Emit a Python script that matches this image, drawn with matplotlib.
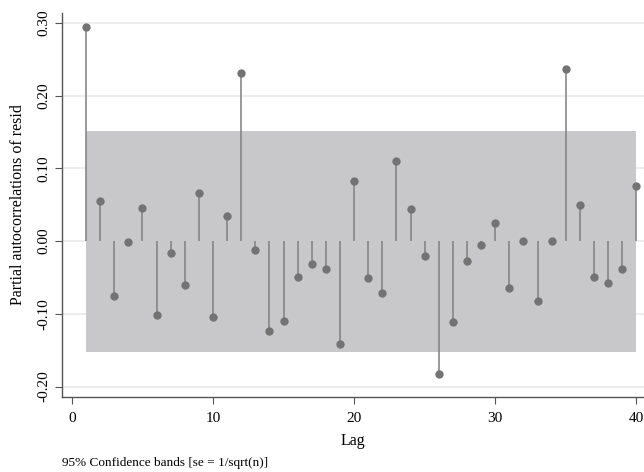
import matplotlib
matplotlib.use("Agg")
import matplotlib.pyplot as plt
import numpy as np

lags = list(range(1, 41))
pacf = [0.294, 0.055, -0.076, -0.001, 0.046, -0.101, -0.016, -0.061, 0.066, -0.104,
        0.035, 0.231, -0.012, -0.123, -0.110, -0.050, -0.032, -0.039, -0.142, 0.083,
        -0.051, -0.072, 0.110, 0.044, -0.020, -0.183, -0.111, -0.028, -0.006, 0.025,
        -0.065, 0.000, -0.083, 0.000, 0.237, 0.049, -0.050, -0.058, -0.038, 0.076]
band = 0.152
xticks = [0, 10, 20, 30, 40]
yticks = [-0.20, -0.10, 0.00, 0.10, 0.20, 0.30]

plt.rcParams['font.family'] = ['Liberation Serif', 'DejaVu Serif']

fig = plt.figure(figsize=(6.44, 4.72), dpi=100)
ax = fig.add_axes([0.0958, 0.1595, 0.904, 0.8135])

ax.set_xlim(-0.72, 40.53)
ax.set_ylim(-0.214, 0.314)

for yv in yticks:
    ax.axhline(yv, color='#eaeaea', lw=1.2, zorder=0)

ax.fill_between([lags[0], lags[-1]], -band, band, color='#c8c8ca', lw=0, zorder=1)

ax.vlines(lags, 0, pacf, color='#7f7f7f', lw=1.1, zorder=2)
ax.plot(lags, pacf, 'o', color='#737373', ms=6, mec='none', zorder=3)

for s in ['top', 'right']:
    ax.spines[s].set_visible(False)
for s in ['left', 'bottom']:
    ax.spines[s].set_color('#555555')
    ax.spines[s].set_linewidth(1.0)

ax.set_xticks(xticks)
ax.set_yticks(yticks)
ax.set_yticklabels([f"{v:.2f}" for v in yticks], rotation=90, va='center')
ax.tick_params(axis='both', labelsize=11, color='#555555', length=5, direction='out')
ax.tick_params(axis='x', pad=6)
ax.tick_params(axis='y', pad=3)

ax.set_xlabel('Lag', fontsize=11.5, labelpad=6)
ax.set_ylabel('Partial autocorrelations of resid', fontsize=11.5, labelpad=8)

fig.text(0.097, 1 - 463 / 472, '95% Confidence bands [se = 1/sqrt(n)]', fontsize=9.5, ha='left', va='center')

fig.savefig('out.png', dpi=100)
